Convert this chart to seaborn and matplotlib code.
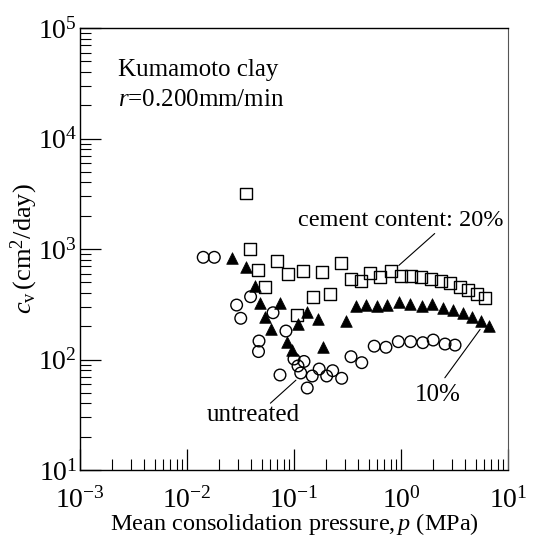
import matplotlib
matplotlib.use("Agg")
import matplotlib.pyplot as plt
import seaborn as sns
import pandas as pd
import numpy as np

# ---- data ----
p_20 = [0.0356, 0.0388, 0.0461, 0.0536, 0.0693, 0.0879, 0.1067, 0.1213, 0.1507,
        0.1828, 0.2168, 0.2748, 0.3412, 0.4227, 0.5128, 0.6368, 0.8072, 1.0,
        1.239, 1.538, 1.906, 2.365, 2.871, 3.558, 4.227, 5.13, 6.10]
cv_20 = [3200, 1000, 645, 453, 778, 594, 253, 632, 368,
         619, 392, 747, 535, 513, 606, 558, 632, 570,
         570, 558, 535, 513, 492, 453, 426, 392, 360]

p_10 = [0.0262, 0.0354, 0.0432, 0.0486, 0.0740, 0.0536, 0.0610, 0.0869, 0.0957,
        0.1089, 0.1321, 0.1675, 0.1853, 0.304, 0.379, 0.471, 0.593, 0.745,
        0.957, 1.213, 1.561, 1.962, 2.453, 3.04, 3.77, 4.58, 5.60, 6.64]
cv_10 = [824, 683, 463, 327, 327, 243, 189, 143, 122,
         210, 269, 231, 129, 225, 305, 311, 307, 313,
         333, 320, 305, 318, 291, 281, 265, 244, 223, 202]

p_un = [0.01418, 0.0180, 0.0291, 0.0318, 0.0393, 0.0471, 0.0466, 0.0637, 0.0740,
        0.0841, 0.100, 0.124, 0.109, 0.1156, 0.133, 0.148, 0.172, 0.202,
        0.230, 0.279, 0.341, 0.430, 0.562, 0.724, 0.944, 1.23, 1.60, 2.00,
        2.58, 3.20]
cv_un = [841, 841, 311, 236, 370, 147, 118, 265, 72.4,
         181, 101, 96, 87.4, 75.5, 55.2, 70.9, 82, 70.9,
         79.2, 67.6, 106, 93.6, 132, 129, 145, 145, 142, 150,
         138, 135]

x_label = "Mean consolidation pressure,$\\,p$ (MPa)"
y_label = r"$c_{\rm v}\,({\rm cm}^2/{\rm day})$"
title_lines = ["Kumamoto clay", r"$r$=0.200mm/min"]

# ---- style ----
sns.set_theme(style="white")
plt.rcParams["font.family"] = ["Liberation Serif", "DejaVu Serif"]
plt.rcParams["mathtext.fontset"] = "custom"
plt.rcParams["mathtext.rm"] = "Liberation Serif"
plt.rcParams["mathtext.it"] = "Liberation Serif:italic"
plt.rcParams["mathtext.bf"] = "Liberation Serif:bold"
plt.rcParams["text.color"] = "black"
plt.rcParams["axes.labelcolor"] = "black"
plt.rcParams["xtick.color"] = "black"
plt.rcParams["ytick.color"] = "black"

fig = plt.figure(figsize=(5.46, 5.46), dpi=100)
ax = fig.add_axes([0.1465, 0.1392, 0.7839, 0.8095])

df20 = pd.DataFrame({"p": p_20, "cv": cv_20})
df10 = pd.DataFrame({"p": p_10, "cv": cv_10})
dfun = pd.DataFrame({"p": p_un, "cv": cv_un})

sns.scatterplot(data=dfun, x="p", y="cv", marker="o", s=70, facecolor="none",
                edgecolor="black", linewidth=1.0, ax=ax, zorder=3)
sns.scatterplot(data=df20, x="p", y="cv", marker="s", s=66, facecolor="none",
                edgecolor="black", linewidth=1.0, ax=ax, zorder=3)
sns.scatterplot(data=df10, x="p", y="cv", marker="^", s=70, color="black",
                edgecolor="black", linewidth=0.5, ax=ax, zorder=4)

ax.set_xscale("log")
ax.set_yscale("log")
ax.set_xlim(1e-3, 1e1)
ax.set_ylim(1e1, 1e5)

ax.xaxis.set_major_locator(matplotlib.ticker.LogLocator(base=10, numticks=10))
ax.yaxis.set_major_locator(matplotlib.ticker.LogLocator(base=10, numticks=10))
ax.xaxis.set_minor_locator(matplotlib.ticker.LogLocator(base=10, subs=np.arange(2, 10), numticks=20))
ax.yaxis.set_minor_locator(matplotlib.ticker.LogLocator(base=10, subs=np.arange(2, 10), numticks=20))
ax.xaxis.set_minor_formatter(matplotlib.ticker.NullFormatter())
ax.yaxis.set_minor_formatter(matplotlib.ticker.NullFormatter())

ax.tick_params(which="major", direction="in", length=15, width=0.9, labelsize=20,
               bottom=True, left=True, top=False, right=False, colors="black")
ax.tick_params(axis="x", which="major", pad=12)
ax.tick_params(axis="y", which="major", pad=2)
ax.tick_params(which="minor", direction="in", length=8, width=0.8,
               bottom=True, left=True, top=False, right=False, colors="black")

for s in ["left", "bottom", "top"]:
    ax.spines[s].set_color("black")
    ax.spines[s].set_linewidth(1.0)
ax.spines["right"].set_color("#555555")
ax.spines["right"].set_linewidth(0.8)

ax.set_xlabel(x_label, fontsize=17.5, color="black")
ax.set_ylabel(y_label, fontsize=19, color="black")
ax.xaxis.set_label_coords(0.5, -0.092)
ax.yaxis.set_label_coords(-0.093, 0.5)

ax.text(0.089, 0.905, title_lines[0], transform=ax.transAxes, fontsize=18,
        va="center", ha="left", color="black")
ax.text(0.089, 0.837, title_lines[1], transform=ax.transAxes, fontsize=18,
        va="center", ha="left", color="black")

# annotations
ax.text(0.109, 1830, "cement content: 20%", fontsize=17.5, va="center", ha="left",
        color="black")
ax.annotate("", xy=(0.912, 683), xytext=(2.16, 1435),
            arrowprops=dict(arrowstyle="-", color="black", lw=0.8))
ax.text(2.19, 47.7, "10%", fontsize=18, va="center", ha="center", color="black")
ax.annotate("", xy=(5.68, 196), xytext=(2.48, 65.2),
            arrowprops=dict(arrowstyle="-", color="black", lw=0.8))
ax.text(0.0414, 31.5, "untreated", fontsize=18, va="center", ha="center", color="black")
ax.annotate("", xy=(0.109, 67.6), xytext=(0.0576, 38.7),
            arrowprops=dict(arrowstyle="-", color="black", lw=0.8))

fig.savefig("out.png", dpi=100, facecolor="white")
